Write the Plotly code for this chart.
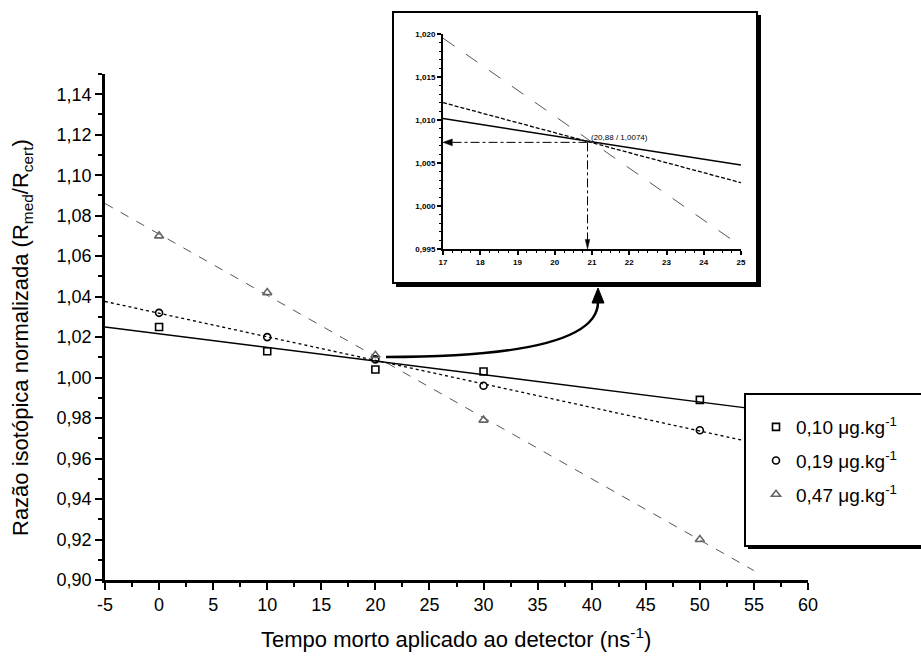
import numpy as np
import plotly.graph_objects as go

# ---------------- data ----------------
tempo = [0, 10, 20, 30, 50]
razao_010 = [1.025, 1.013, 1.004, 1.003, 0.989]
razao_019 = [1.032, 1.020, 1.009, 0.996, 0.974]
razao_047 = [1.070, 1.042, 1.011, 0.979, 0.920]
series_names = ["0,10 μg.kg<sup>-1</sup>", "0,19 μg.kg<sup>-1</sup>", "0,47 μg.kg<sup>-1</sup>"]
fit_range_main = [-5, 55]
fit_range_inset = [17, 25]
intersecao = [20.88, 1.0074]
intersecao_label = "(20,88 / 1,0074)"
x_ticks_main = [-5, 0, 5, 10, 15, 20, 25, 30, 35, 40, 45, 50, 55, 60]
y_ticks_main = [0.90, 0.92, 0.94, 0.96, 0.98, 1.00, 1.02, 1.04, 1.06, 1.08, 1.10, 1.12, 1.14]
x_ticks_inset = [17, 18, 19, 20, 21, 22, 23, 24, 25]
y_ticks_inset = [0.995, 1.000, 1.005, 1.010, 1.015, 1.020]
x_title = "Tempo morto aplicado ao detector (ns<sup>-1</sup>)"
y_title = "Razão isotópica normalizada (R<sub>med</sub>/R<sub>cert</sub>)"

# ---------------- page geometry ----------------
W, H = 921, 664
L, R, T, B = 105, 113, 10, 84
PW, PH = W - L - R, H - T - B
BOTTOM = H - B


def px(xp):
    return (xp - L) / PW


def py(yp):
    return (BOTTOM - yp) / PH


FONT = "Liberation Sans, Arial, sans-serif"

styles = [
    dict(symbol="square-open", size=7, mcolor="black", lcolor="black", dash="solid", lw=1.5),
    dict(symbol="circle-open", size=7, mcolor="black", lcolor="black", dash="dot", lw=1.3),
    dict(symbol="triangle-up-open", size=8, mcolor="#666666", lcolor="#555555", dash="dash", lw=1.0),
]
inset_dash = ["solid", "4px,2px", "14px,14px"]

fig = go.Figure()
all_series = [razao_010, razao_019, razao_047]

for i, (yv, name, st) in enumerate(zip(all_series, series_names, styles)):
    slope, icpt = np.polyfit(tempo, yv, 1)
    xm = np.array(fit_range_main, dtype=float)
    fig.add_trace(go.Scatter(x=xm, y=slope * xm + icpt, mode="lines",
                             line=dict(color=st["lcolor"], width=st["lw"], dash=st["dash"]),
                             showlegend=False, hoverinfo="skip", xaxis="x", yaxis="y"))
    xi = np.array(fit_range_inset, dtype=float)
    fig.add_trace(go.Scatter(x=xi, y=slope * xi + icpt, mode="lines",
                             line=dict(color=st["lcolor"], width=st["lw"], dash=inset_dash[i]),
                             showlegend=False, hoverinfo="skip", xaxis="x2", yaxis="y2"))

for i, (yv, name, st) in enumerate(zip(all_series, series_names, styles)):
    fig.add_trace(go.Scatter(x=tempo, y=yv, mode="markers", name=name,
                             legendgroup="g%d" % i,
                             marker=dict(symbol=st["symbol"], size=st["size"], color=st["mcolor"],
                                         line=dict(width=1.6, color=st["mcolor"])),
                             xaxis="x", yaxis="y"))

axis_common = dict(showline=True, linecolor="black", showgrid=False, zeroline=False,
                   ticks="outside", tickcolor="black", mirror=False)

fig.update_layout(
    width=W, height=H,
    margin=dict(l=L, r=R, t=T, b=B, autoexpand=False),
    paper_bgcolor="white", plot_bgcolor="rgba(0,0,0,0)",
    separators=",.",
    font=dict(family=FONT, color="black"),
    xaxis=dict(**axis_common, domain=[0, 1], anchor="y", range=[-5, 60],
               linewidth=2.5, tickwidth=2, ticklen=7,
               tickvals=x_ticks_main, ticktext=[str(v) for v in x_ticks_main],
               tickfont=dict(size=18, family=FONT),
               minor=dict(ticks="outside", ticklen=4, tickwidth=2, dtick=2.5, tick0=-5, tickcolor="black")),
    yaxis=dict(**axis_common, domain=[0, py(74)], anchor="x", range=[0.90, 1.15],
               linewidth=2.5, tickwidth=2, ticklen=7,
               tickvals=y_ticks_main, tickformat=".2f",
               tickfont=dict(size=18, family=FONT),
               minor=dict(ticks="outside", ticklen=4, tickwidth=2, dtick=0.01, tick0=0.90, tickcolor="black")),
    xaxis2=dict(**axis_common, domain=[px(443), px(741)], anchor="y2", range=[17, 25],
                linewidth=2, tickwidth=1.5, ticklen=4,
                tickvals=x_ticks_inset, tickfont=dict(size=8, family=FONT, weight="bold"),
                minor=dict(ticks="outside", ticklen=2, tickwidth=1, dtick=0.25, tick0=17, tickcolor="black")),
    yaxis2=dict(**axis_common, domain=[py(249), py(34)], anchor="x2", range=[0.995, 1.020],
                linewidth=2, tickwidth=1.5, ticklen=4,
                tickvals=y_ticks_inset, tickformat=".3f",
                tickfont=dict(size=8, family=FONT, weight="bold"),
                minor=dict(ticks="outside", ticklen=2, tickwidth=1, dtick=0.001, tick0=0.995, tickcolor="black")),
    legend=dict(x=px(756), y=py(408), xanchor="left", yanchor="top",
                bgcolor="rgba(0,0,0,0)", borderwidth=0,
                font=dict(size=19, family=FONT), tracegroupgap=6, traceorder="grouped"),
    showlegend=True,
)

shapes = []
# inset frame with shadow
shapes.append(dict(type="rect", xref="paper", yref="paper", x0=px(396), x1=px(761), y0=py(287), y1=py(15),
                   fillcolor="black", line=dict(width=0), layer="below"))
shapes.append(dict(type="rect", xref="paper", yref="paper", x0=px(393), x1=px(757), y0=py(283), y1=py(12),
                   fillcolor="white", line=dict(color="black", width=2), layer="below"))
# legend frame with shadow
shapes.append(dict(type="rect", xref="paper", yref="paper", x0=px(748), x1=px(980), y0=py(549), y1=py(397),
                   fillcolor="black", line=dict(width=0), layer="above"))
shapes.append(dict(type="rect", xref="paper", yref="paper", x0=px(745), x1=px(980), y0=py(546), y1=py(394),
                   fillcolor="white", line=dict(color="black", width=2), layer="above"))
# curved connector arrow
sx, sy = px(386), py(357)
cx, cy = px(598), py(357)
ex, ey = px(598), py(302)
shapes.append(dict(type="path", xref="paper", yref="paper",
                   path=f"M {sx},{sy} Q {cx},{cy} {ex},{ey}",
                   line=dict(color="black", width=2.5), layer="above"))
shapes.append(dict(type="path", xref="paper", yref="paper",
                   path=f"M {px(592)},{py(303)} L {px(604)},{py(303)} L {px(598)},{py(288)} Z",
                   fillcolor="black", line=dict(color="black", width=1), layer="above"))
# inset guide lines
x0i, y0i = intersecao
shapes.append(dict(type="line", xref="x2", yref="y2", x0=x0i, x1=17.2,
                   y0=y0i, y1=y0i, line=dict(color="black", width=1, dash="dashdot")))
shapes.append(dict(type="line", xref="x2", yref="y2", x0=x0i, x1=x0i,
                   y0=y0i, y1=0.9960, line=dict(color="black", width=1, dash="dashdot")))
# arrow heads of the guide lines
shapes.append(dict(type="path", xref="x2", yref="y2",
                   path=f"M 17.0,{y0i} L 17.25,{y0i + 0.0004} L 17.25,{y0i - 0.0004} Z",
                   fillcolor="black", line=dict(color="black", width=0.5)))
shapes.append(dict(type="path", xref="x2", yref="y2",
                   path=f"M {x0i},0.995 L {x0i - 0.06},0.9961 L {x0i + 0.06},0.9961 Z",
                   fillcolor="black", line=dict(color="black", width=0.5)))
fig.update_layout(shapes=shapes)

annotations = [
    dict(xref="paper", yref="paper", x=px(456), y=py(638), text=x_title, showarrow=False,
         font=dict(size=22, family=FONT), xanchor="center", yanchor="middle"),
    dict(xref="paper", yref="paper", x=px(22), y=py(338), text=y_title, showarrow=False,
         textangle=-90, font=dict(size=22, family=FONT), xanchor="center", yanchor="middle"),
    dict(xref="x2", yref="y2", x=x0i, y=y0i, text=intersecao_label,
         showarrow=False, xanchor="left", yanchor="bottom", xshift=1, yshift=-2,
         font=dict(size=8, family=FONT)),
]
fig.update_layout(annotations=annotations)

fig.write_html("out.html")
